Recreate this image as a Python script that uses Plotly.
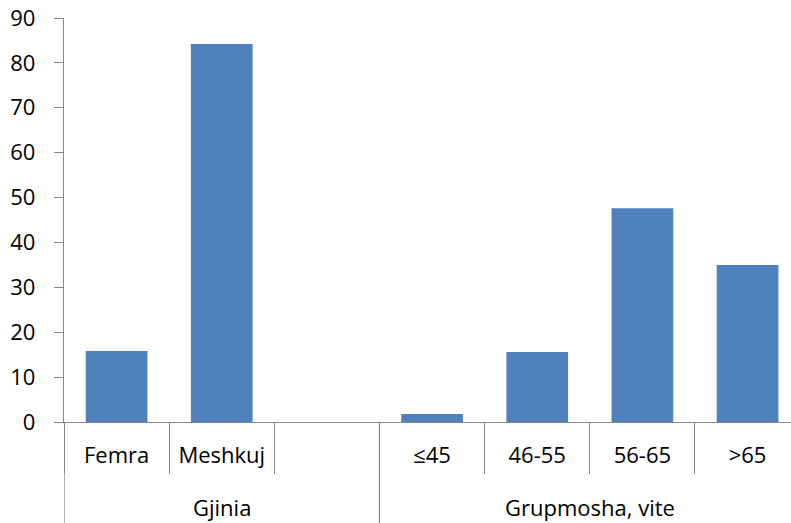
import plotly.graph_objects as go

# Share of patients (%) by sex and by age group
categories = ["Femra", "Meshkuj", " ", "≤45", "46-55", "56-65", ">65"]
values = [15.8, 84.2, None, 1.8, 15.6, 47.6, 35.0]
groups = ["Gjinia", "Grupmosha, vite"]
group_centers = [1, 4.5]      # category-index centres of each group
group_edges = [-0.5, 2.5]     # category-index left edges of each group
y_ticks = list(range(0, 91, 10))

AXIS = "#868686"
FONT = "Open Sans, Carlito, Calibri, sans-serif"

fig = go.Figure(
    go.Bar(
        x=categories,
        y=values,
        width=0.587,
        marker=dict(color="#4F81BD", line=dict(width=0)),
        hoverinfo="x+y",
    )
)

# Group divider lines running from the axis down to the bottom
for edge in group_edges:
    fig.add_shape(
        type="line", xref="x", yref="paper",
        x0=edge, x1=edge, y0=0, y1=-0.26,
        line=dict(color=AXIS, width=1.3),
    )

for name, cx in zip(groups, group_centers):
    fig.add_annotation(
        x=cx, xref="x", y=-0.211, yref="paper",
        text=name, showarrow=False,
        font=dict(family=FONT, size=22, color="#000000"),
        xanchor="center", yanchor="middle",
    )

fig.update_layout(
    width=791, height=523,
    margin=dict(l=64, r=0, t=18, b=101),
    paper_bgcolor="white", plot_bgcolor="white",
    showlegend=False,
    font=dict(family=FONT, size=22, color="#000000"),
)

fig.update_xaxes(
    type="category",
    categoryorder="array", categoryarray=categories,
    range=[-0.5, 6.413],
    showline=True, linecolor=AXIS, linewidth=1.3,
    ticks="outside", tickson="boundaries", ticklen=51,
    tickcolor=AXIS, tickwidth=1.3,
    ticklabelstandoff=13,
    showgrid=False, zeroline=False,
    tickfont=dict(family=FONT, size=22, color="#000000"),
)

fig.update_yaxes(
    range=[0, 90],
    tickvals=y_ticks,
    showline=True, linecolor=AXIS, linewidth=1.3,
    ticks="outside", ticklen=9, tickcolor=AXIS, tickwidth=1.3,
    ticklabelstandoff=14,
    showgrid=False, zeroline=False,
    tickfont=dict(family=FONT, size=22, color="#000000"),
)

fig.write_html("out.html")
